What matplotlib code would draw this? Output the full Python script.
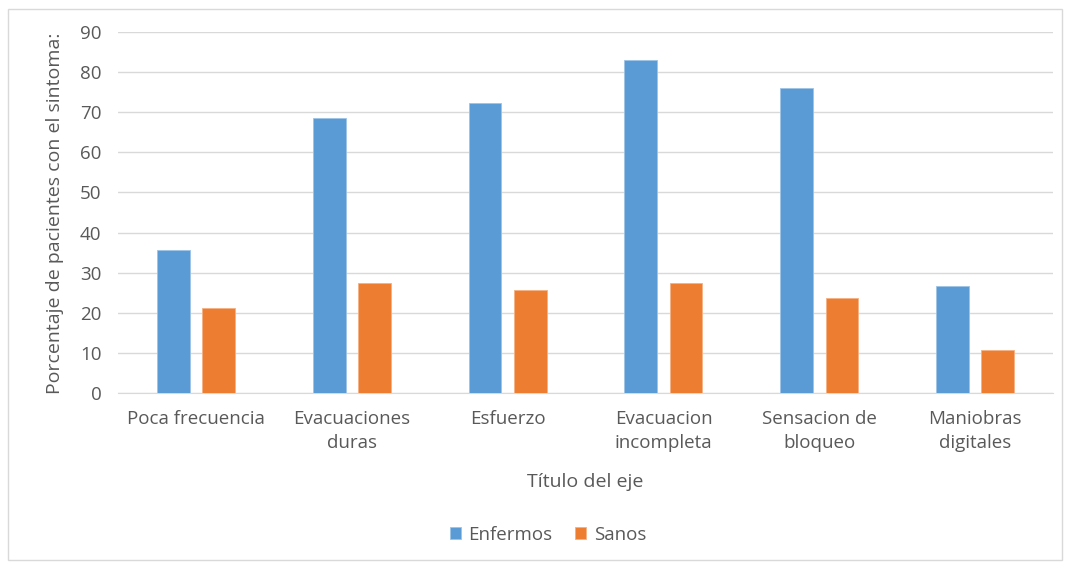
import numpy as np
import matplotlib
matplotlib.use("Agg")
import matplotlib.pyplot as plt
from matplotlib.patches import Rectangle

categories = ["Poca frecuencia", "Evacuaciones\nduras", "Esfuerzo",
              "Evacuacion\nincompleta", "Sensacion de\nbloqueo", "Maniobras\ndigitales"]
enfermos = [35.7, 68.6, 72.3, 83.0, 76.0, 26.7]
sanos = [21.2, 27.4, 25.7, 27.4, 23.7, 10.7]

plt.rcParams['font.family'] = ['Open Sans', 'DejaVu Sans']
text_color = '#595959'

fig = plt.figure(figsize=(10.68, 5.62), dpi=100)
ax = fig.add_axes([0.1105, 0.3007, 0.8755, 0.6423])

# outer chart border
fig.patches.append(Rectangle((8 / 1068, 2 / 562), 1054 / 1068, 551 / 562,
                             transform=fig.transFigure, fill=False,
                             edgecolor='#d9d9d9', linewidth=1))

x = np.arange(len(categories))
w = 0.21
off = 0.145
ax.bar(x - off, enfermos, w, color='#5B9BD5', edgecolor='#9dc3e6', linewidth=0.6,
       label='Enfermos', zorder=3)
ax.bar(x + off, sanos, w, color='#ED7D31', edgecolor='#f4b183', linewidth=0.6,
       label='Sanos', zorder=3)

ax.set_xlim(-0.5, len(categories) - 0.5)
ax.set_ylim(0, 90)
ax.set_yticks(range(0, 91, 10))
ax.set_xticks(x)
ax.set_xticklabels(categories, linespacing=1.45)
ax.grid(axis='y', color='#d9d9d9', linewidth=1, zorder=0)
for s in ['top', 'right', 'left']:
    ax.spines[s].set_visible(False)
ax.spines['bottom'].set_color('#d9d9d9')
ax.tick_params(axis='both', length=0, labelsize=13.5, colors=text_color)
ax.tick_params(axis='x', pad=12)
ax.tick_params(axis='y', pad=12)

ax.set_xlabel('Título del eje', fontsize=14, color=text_color, labelpad=15)
fig.text(55 / 1068, 1 - 213 / 562, 'Porcentaje de pacientes con el sintoma:',
         rotation=90, ha='center', va='center', fontsize=14, color=text_color)

leg = fig.legend(loc='center', bbox_to_anchor=(548 / 1068, 1 - 535 / 562), ncol=2,
                 frameon=False, fontsize=13.5, handlelength=0.6, handleheight=0.6,
                 handletextpad=0.4, columnspacing=1.2)
for t in leg.get_texts():
    t.set_color(text_color)

fig.savefig('out.png', dpi=100)
